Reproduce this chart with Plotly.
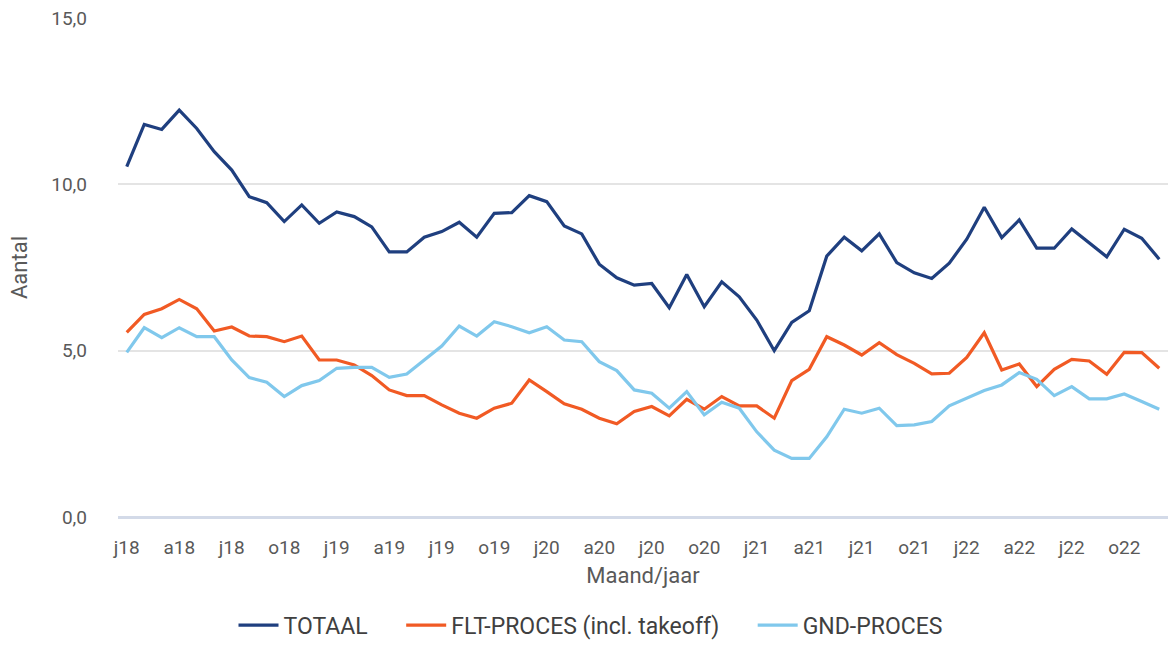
import plotly.graph_objects as go

months = list(range(60))
tick_pos = list(range(0, 60, 3))
tick_labels = ["j18", "a18", "j18", "o18", "j19", "a19", "j19", "o19", "j20", "a20",
               "j20", "o20", "j21", "a21", "j21", "o21", "j22", "a22", "j22", "o22"]

totaal = [10.53, 11.80, 11.65, 12.23, 11.68, 10.98, 10.43, 9.63, 9.45, 8.88,
          9.38, 8.83, 9.17, 9.03, 8.72, 7.97, 7.97, 8.41, 8.58, 8.86,
          8.41, 9.13, 9.15, 9.66, 9.48, 8.75, 8.51, 7.60, 7.19, 6.97,
          7.02, 6.29, 7.29, 6.32, 7.07, 6.62, 5.92, 5.00, 5.85, 6.20,
          7.84, 8.41, 8.00, 8.51, 7.65, 7.34, 7.17, 7.63, 8.35, 9.31,
          8.40, 8.93, 8.08, 8.08, 8.66, 8.23, 7.82, 8.65, 8.38, 7.75]

flt = [5.55, 6.09, 6.26, 6.54, 6.26, 5.59, 5.71, 5.44, 5.42, 5.27,
       5.44, 4.72, 4.72, 4.57, 4.25, 3.82, 3.65, 3.65, 3.37, 3.12,
       2.97, 3.27, 3.42, 4.12, 3.77, 3.40, 3.24, 2.97, 2.80, 3.17,
       3.32, 3.04, 3.54, 3.24, 3.62, 3.34, 3.34, 2.97, 4.10, 4.44,
       5.42, 5.17, 4.87, 5.24, 4.88, 4.62, 4.30, 4.32, 4.80, 5.54,
       4.42, 4.60, 3.92, 4.44, 4.74, 4.69, 4.29, 4.95, 4.94, 4.47]

gnd = [4.95, 5.69, 5.39, 5.69, 5.42, 5.42, 4.72, 4.19, 4.05, 3.62,
       3.95, 4.10, 4.47, 4.50, 4.50, 4.20, 4.30, 4.72, 5.14, 5.74,
       5.44, 5.87, 5.72, 5.54, 5.72, 5.32, 5.27, 4.67, 4.40, 3.82,
       3.72, 3.27, 3.77, 3.07, 3.45, 3.27, 2.56, 2.01, 1.76, 1.76,
       2.41, 3.24, 3.12, 3.27, 2.75, 2.77, 2.87, 3.34, 3.57, 3.80,
       3.97, 4.34, 4.14, 3.65, 3.92, 3.55, 3.55, 3.70, 3.47, 3.24]

series = [("TOTAAL", totaal, "#1f3f7f"),
          ("FLT-PROCES (incl. takeoff)", flt, "#f15a24"),
          ("GND-PROCES", gnd, "#80c8ec")]

FONT = "Roboto"
GRAY = "#595959"
PAD = "\u00a0" * 5

fig = go.Figure()
for k, (name, vals, col) in enumerate(series):
    label = name + (PAD if k < len(series) - 1 else "")
    fig.add_trace(go.Scatter(x=months, y=vals, name=label, mode="lines",
                             line=dict(color=col, width=3.2)))

fig.update_layout(
    width=1168, height=648,
    margin=dict(l=118, r=0, t=18, b=131, autoexpand=False),
    paper_bgcolor="white", plot_bgcolor="white",
    separators=",.",
    font=dict(family=FONT, color=GRAY, size=19),
    showlegend=True,
    legend=dict(orientation="h", x=0.45, xanchor="center", y=-0.26, yanchor="bottom",
                font=dict(size=23, color="#404040"), itemwidth=40, traceorder="normal"),
)
fig.update_xaxes(range=[-0.5, 59.5], tickvals=tick_pos, ticktext=tick_labels,
                 showgrid=False, zeroline=False, showline=False,
                 ticks="", ticklabelstandoff=17, tickfont=dict(size=19, color=GRAY),
                 title=dict(text="Maand/jaar", font=dict(size=22, color=GRAY), standoff=9))
fig.update_yaxes(range=[0, 15], tickvals=[0, 5, 10, 15], tickformat=".1f",
                 showgrid=True, gridcolor="#e4e4e4", gridwidth=1.5,
                 zeroline=True, zerolinecolor="#d3dae8", zerolinewidth=2.5,
                 showline=False, ticks="", ticklabelstandoff=30,
                 tickfont=dict(size=19, color=GRAY),
                 title=dict(text="Aantal", font=dict(size=22, color=GRAY), standoff=17))

fig.write_html("out.html", config={"displayModeBar": False},
               post_script="document.body.style.margin='0';document.body.style.overflow='hidden';")
